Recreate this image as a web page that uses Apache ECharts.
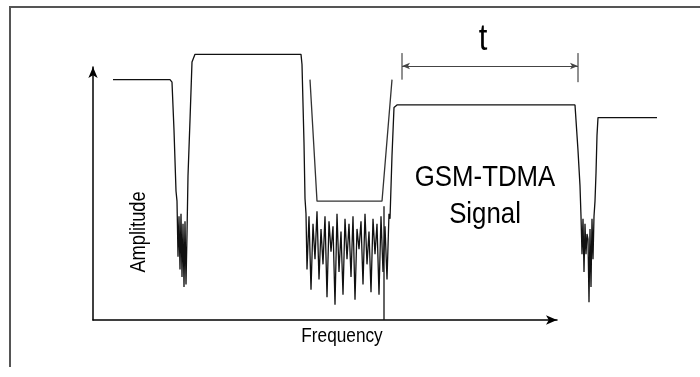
<!DOCTYPE html>
<html>
<head>
<meta charset="utf-8">
<script src="https://cdn.jsdelivr.net/npm/echarts@6/dist/echarts.min.js"></script>
<style>
  html, body { margin: 0; padding: 0; background: #fff; }
  #chart { width: 700px; height: 377px; }
</style>
</head>
<body>
<div id="chart"></div>
<script>
// signal trace: [frequency, amplitude]
const trace = [
  [10, 95], [38.5, 95], [39.5, 94], [40.5, 75], [41.5, 51], [42, 47],
  [42.5, 25], [43, 41], [43.5, 20], [44, 42], [44.5, 17], [45, 38], [45.5, 13],
  [46, 39], [46.5, 14], [47, 34], [47.5, 57], [48.5, 79], [49.5, 102], [51, 105],
  [104, 105], [104.5, 101], [105.5, 70], [106, 48], [106.5, 42],
  [107, 20], [108, 41], [109, 12], [110, 38], [111, 24], [112, 43], [113, 16],
  [114, 36], [115, 22], [116, 41], [117, 9], [118, 39], [119, 27], [120, 37],
  [121, 6], [122, 42], [123, 19], [124, 35], [125, 10], [126, 40], [127, 24],
  [128, 38], [129, 17], [130, 41], [131, 8], [132, 36], [133, 28], [134, 39],
  [135, 14], [136, 42], [137, 22], [138, 35], [139, 11], [140, 40], [141, 26],
  [142, 38], [143, 10], [144, 41], [145, 19], [146, 37], [147, 16], [148, 42],
  [148.5, 40], [149.5, 65], [150.5, 84], [152, 85],
  [241, 85], [242.5, 67], [243.5, 53], [244, 41], [244.5, 26], [245, 40],
  [245.5, 19], [246, 38], [246.5, 26], [247, 34], [247.5, 32], [248, 7],
  [248.5, 36], [249, 13], [249.5, 40], [250, 24], [250.5, 41], [251, 47],
  [251.5, 58], [252, 73], [252.5, 80], [253, 80], [282, 80]
];
// filter mask (trapezoid)
const filterMask = [[108.5, 95], [112, 47], [144.5, 47], [149.5, 95]];
// carrier marker
const carrier = [[145.5, 45], [145.5, 0]];
// burst length "t" marks
const tTicks = [[154.5, 105.5], [154.5, 95], null, [242.5, 105.5], [242.5, 94]];
const tSpan = [154.5, 242.5];
const tLevel = 100.4;

const font = "'Liberation Sans', Arial, sans-serif";

const chart = echarts.init(document.getElementById('chart'));
const lineBase = {
  type: 'line',
  xAxisIndex: 0,
  yAxisIndex: 0,
  symbol: 'none',
  clip: false,
  silent: true,
  animation: false
};
const hiddenAxis = { show: false };
const arrowAxis = {
  axisLine: { show: true, symbol: ['none', 'arrow'], symbolSize: [7, 11], lineStyle: { color: '#000', width: 1.5 } },
  axisTick: { show: false }, axisLabel: { show: false }, splitLine: { show: false }
};

function label(text, x, y, size, sx, extra) {
  return Object.assign({
    type: 'text', x: x, y: y, scaleX: sx, silent: true,
    style: { text: text, font: size + 'px ' + font, fill: '#000', textAlign: 'center', textVerticalAlign: 'middle' }
  }, extra || {});
}

chart.setOption({
  backgroundColor: '#ffffff',
  animation: false,
  grid: [
    // data grid: same scale as the axes, wider extent
    { left: 93, top: 16.4, right: 0, bottom: 57 },
    // axes grid
    { left: 93, top: 67, width: 464, height: 253 }
  ],
  xAxis: [
    Object.assign({ type: 'value', min: 0, max: 303.5, gridIndex: 0 }, hiddenAxis),
    Object.assign({ type: 'value', min: 0, max: 232, gridIndex: 1 }, arrowAxis)
  ],
  yAxis: [
    Object.assign({ type: 'value', min: 0, max: 120, gridIndex: 0 }, hiddenAxis),
    Object.assign({ type: 'value', min: 0, max: 100, gridIndex: 1 }, arrowAxis)
  ],
  graphic: [
    { type: 'line', shape: { x1: 10, y1: 7, x2: 700, y2: 7 }, style: { stroke: '#555', lineWidth: 2 }, silent: true },
    { type: 'line', shape: { x1: 10, y1: 6, x2: 10, y2: 367 }, style: { stroke: '#555', lineWidth: 2 }, silent: true },
    label('t', 483, 40, 36, 0.86),
    { type: 'text', x: 485, y: 196, scaleX: 0.86, silent: true,
      style: { text: 'GSM-TDMA\nSignal', font: '30px ' + font, lineHeight: 37, fill: '#000', textAlign: 'center', textVerticalAlign: 'middle' } },
    label('Frequency', 342, 336, 21, 0.82),
    label('Amplitude', 139, 232, 22, 0.83, { rotation: Math.PI / 2 })
  ],
  series: [
    Object.assign({}, lineBase, { data: trace, lineStyle: { color: '#111', width: 1.3 } }),
    Object.assign({}, lineBase, { data: filterMask, lineStyle: { color: '#333', width: 1.3 } }),
    Object.assign({}, lineBase, { data: carrier, lineStyle: { color: '#111', width: 1.3 } }),
    Object.assign({}, lineBase, {
      data: tTicks, connectNulls: false, lineStyle: { color: '#222', width: 1 },
      markLine: {
        silent: true, animation: false,
        symbol: ['arrow', 'arrow'], symbolSize: [5, 8],
        label: { show: false },
        lineStyle: { color: '#444', width: 1, type: 'solid' },
        data: [[{ coord: [tSpan[0], tLevel] }, { coord: [tSpan[1], tLevel] }]]
      }
    })
  ]
});
</script>
</body>
</html>
